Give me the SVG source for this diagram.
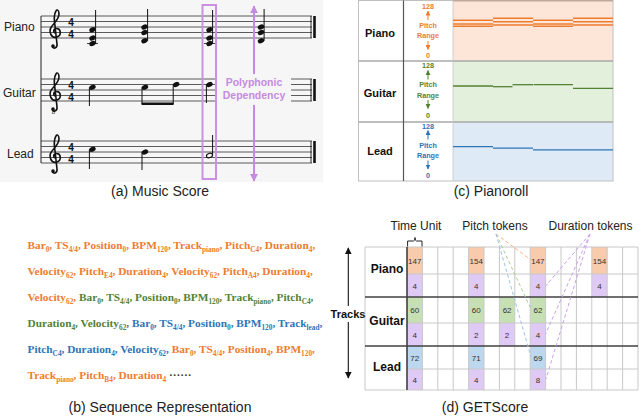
<svg xmlns="http://www.w3.org/2000/svg" width="640" height="417" viewBox="0 0 640 417">
<style>
.cap{font-family:"Liberation Sans",Arial,sans-serif;font-size:14px;fill:#222;text-anchor:middle}
.lbl{font-family:"Liberation Sans",Arial,sans-serif;font-size:12px;fill:#222}
.blbl{font-family:"Liberation Sans",Arial,sans-serif;font-weight:bold;fill:#111;text-anchor:middle}
.staff line{stroke:#333;stroke-width:0.8}
.clef{fill:none;stroke:#111;stroke-width:1.6;stroke-linecap:round}
.ts{font-family:"Liberation Sans",Arial,sans-serif;font-weight:bold;font-size:10px;fill:#111;text-anchor:middle}
.stem{stroke:#111;stroke-width:1}
.purple{fill:#c48be0}
.pr{font-family:"Liberation Sans",Arial,sans-serif;font-weight:bold;font-size:7.2px;text-anchor:middle}
.seq{font-family:"Liberation Serif","Times New Roman",serif;font-weight:bold;font-size:11.3px}
.seq tspan tspan.s{font-size:7.3px}
.o{fill:#ed7d31}.g{fill:#548235}.b{fill:#2e75b6}
.grid{stroke:#c8c8c8;stroke-width:1}
.cell{font-family:"Liberation Sans",Arial,sans-serif;font-size:8px;fill:#333;text-anchor:middle}
.dash{fill:none;stroke-width:1;stroke-dasharray:3.5 2.5}
</style>
<defs>
<marker id="ah" viewBox="0 0 10 10" refX="9" refY="5" markerWidth="6" markerHeight="6" orient="auto-start-reverse"><path d="M0 0 L10 5 L0 10 z" fill="#111"/></marker>
<marker id="ahp" viewBox="0 0 10 10" refX="9" refY="5" markerWidth="4" markerHeight="4" orient="auto-start-reverse"><path d="M0 0 L10 5 L0 10 z" fill="#c48be0"/></marker>
<marker id="aho" viewBox="0 0 10 10" refX="9" refY="5" markerWidth="5" markerHeight="5" orient="auto"><path d="M0 0 L10 5 L0 10 z" fill="#ed7d31"/></marker>
<marker id="ahg" viewBox="0 0 10 10" refX="9" refY="5" markerWidth="5" markerHeight="5" orient="auto"><path d="M0 0 L10 5 L0 10 z" fill="#548235"/></marker>
<marker id="ahb" viewBox="0 0 10 10" refX="9" refY="5" markerWidth="5" markerHeight="5" orient="auto"><path d="M0 0 L10 5 L0 10 z" fill="#2e75b6"/></marker>
<g id="clef"><path class="clef" d="M1.5 17 C-1 17,-1 13,2 12.5 C7 12,8 19,3 21 C-3 23,-6 15,-2 10 C1 6,5 3,5 -2 C5 -6,3 -7,2 -5 C0 -2,0 4,1 10 L3 28 C3.5 32,0 33,-1.5 31"/><circle cx="-1" cy="30" r="1.8" fill="#111"/></g>
<ellipse id="nh" rx="3.3" ry="2.4" transform="rotate(-20)" fill="#111"/>
</defs>

<!-- (a) Music Score -->
<g id="music-score">
<rect x="0" y="0" width="323" height="182" fill="#f6f6f6"/>
<line x1="41" y1="16" x2="41" y2="163" stroke="#222" stroke-width="1"/>
<g class="staff">
<line x1="41" y1="16" x2="312" y2="16"/><line x1="41" y1="21.5" x2="312" y2="21.5"/><line x1="41" y1="27" x2="312" y2="27"/><line x1="41" y1="32.5" x2="312" y2="32.5"/><line x1="41" y1="38" x2="312" y2="38"/>
<line x1="41" y1="79" x2="217" y2="79"/><line x1="41" y1="84.5" x2="217" y2="84.5"/><line x1="41" y1="90" x2="217" y2="90"/><line x1="41" y1="95.5" x2="217" y2="95.5"/><line x1="41" y1="101" x2="217" y2="101"/>
<line x1="291" y1="79" x2="312" y2="79"/><line x1="291" y1="84.5" x2="312" y2="84.5"/><line x1="291" y1="90" x2="312" y2="90"/><line x1="291" y1="95.5" x2="312" y2="95.5"/><line x1="291" y1="101" x2="312" y2="101"/>
<line x1="41" y1="141" x2="312" y2="141"/><line x1="41" y1="146.5" x2="312" y2="146.5"/><line x1="41" y1="152" x2="312" y2="152"/><line x1="41" y1="157.5" x2="312" y2="157.5"/><line x1="41" y1="163" x2="312" y2="163"/>
</g>
<g stroke="#111">
<line x1="311" y1="16" x2="311" y2="38" stroke-width="0.9"/><line x1="314.5" y1="16" x2="314.5" y2="38" stroke-width="2.6"/>
<line x1="311" y1="79" x2="311" y2="101" stroke-width="0.9"/><line x1="314.5" y1="79" x2="314.5" y2="101" stroke-width="2.6"/>
<line x1="311" y1="141" x2="311" y2="163" stroke-width="0.9"/><line x1="314.5" y1="141" x2="314.5" y2="163" stroke-width="2.6"/>
</g>
<use href="#clef" x="54" y="16"/>
<use href="#clef" x="54" y="79"/>
<use href="#clef" x="54" y="141"/>
<text x="53.5" y="114" font-family="Liberation Sans,Arial,sans-serif" font-size="6" text-anchor="middle" fill="#111">8</text>
<text class="ts"><tspan x="71" y="26">4</tspan><tspan x="71" y="37.5">4</tspan></text>
<text class="ts"><tspan x="71" y="89">4</tspan><tspan x="71" y="100.5">4</tspan></text>
<text class="ts"><tspan x="71" y="151">4</tspan><tspan x="71" y="162.5">4</tspan></text>
<text class="lbl" x="4" y="31">Piano</text>
<text class="lbl" x="3" y="97">Guitar</text>
<text class="lbl" x="7" y="158">Lead</text>
<g>
<use href="#nh" x="92.5" y="43.5"/><use href="#nh" x="92.5" y="38"/><use href="#nh" x="92.5" y="29.75"/>
<line x1="87" y1="43.5" x2="98" y2="43.5" stroke="#111" stroke-width="0.8"/>
<line class="stem" x1="95.6" y1="43.5" x2="95.6" y2="10"/>
<use href="#nh" x="144.5" y="40.75"/><use href="#nh" x="144.5" y="32.5"/><use href="#nh" x="144.5" y="27"/>
<line class="stem" x1="147.6" y1="40.75" x2="147.6" y2="9"/>
<use href="#nh" x="209.5" y="43.5"/><use href="#nh" x="209.5" y="38"/><use href="#nh" x="209.5" y="29.75"/>
<line x1="204" y1="43.5" x2="215" y2="43.5" stroke="#111" stroke-width="0.8"/>
<line class="stem" x1="212.6" y1="43.5" x2="212.6" y2="10"/>
<use href="#nh" x="261" y="40.75"/><use href="#nh" x="261" y="32.5"/><use href="#nh" x="261" y="27"/>
<line class="stem" x1="264.1" y1="40.75" x2="264.1" y2="9"/>
</g>
<g>
<use href="#nh" x="92.5" y="87.25"/><line class="stem" x1="89.4" y1="87.25" x2="89.4" y2="106"/>
<use href="#nh" x="145" y="87.25"/><line class="stem" x1="142" y1="87.25" x2="142" y2="104"/>
<use href="#nh" x="176.2" y="84.5"/><line class="stem" x1="173.2" y1="84.5" x2="173.2" y2="104"/>
<line x1="141.6" y1="103.7" x2="173.6" y2="103.7" stroke="#111" stroke-width="2.6"/>
<use href="#nh" x="209.5" y="84.5"/><line class="stem" x1="206.4" y1="84.5" x2="206.4" y2="103"/>
</g>
<g>
<use href="#nh" x="92.5" y="149.25"/><line class="stem" x1="89.4" y1="149.25" x2="89.4" y2="169"/>
<use href="#nh" x="145" y="152"/><line class="stem" x1="142" y1="152" x2="142" y2="170"/>
<ellipse cx="209.5" cy="155.5" rx="3.1" ry="2.1" transform="rotate(-20 209.5 155.5)" fill="none" stroke="#111" stroke-width="1.1"/>
<line class="stem" x1="212.6" y1="155" x2="212.6" y2="135"/>
</g>
<rect x="202.5" y="5" width="13.5" height="174" fill="none" stroke="#c990e5" stroke-width="2"/>
<line x1="254" y1="74" x2="254" y2="6" stroke="#c48be0" stroke-width="2" marker-end="url(#ahp)"/>
<line x1="254" y1="105" x2="254" y2="181" stroke="#c48be0" stroke-width="2" marker-end="url(#ahp)"/>
<text x="254" y="86" class="purple" font-family="Liberation Sans,Arial,sans-serif" font-weight="bold" font-size="10.5" text-anchor="middle">Polyphonic</text>
<text x="254" y="98.5" class="purple" font-family="Liberation Sans,Arial,sans-serif" font-weight="bold" font-size="10.5" text-anchor="middle">Dependency</text>
<text class="cap" x="160" y="196">(a) Music Score</text>
</g>

<!-- (c) Pianoroll -->
<g id="pianoroll">
<rect x="453" y="0.5" width="160" height="60.5" fill="#fde5d7"/>
<rect x="453" y="61" width="160" height="61" fill="#e3f0dc"/>
<rect x="453" y="122" width="160" height="59" fill="#deebf7"/>
<rect x="358.5" y="0.5" width="254.5" height="180.5" fill="none" stroke="#c0c0c0" stroke-width="1"/>
<line x1="453" y1="0.8" x2="613" y2="0.8" stroke="#bfa99b" stroke-width="1.5"/>
<line x1="358.5" y1="61" x2="613" y2="61" stroke="#a8a8a8" stroke-width="1.5"/>
<line x1="358.5" y1="122" x2="613" y2="122" stroke="#a8a8a8" stroke-width="1.5"/>
<line x1="403.5" y1="0.5" x2="403.5" y2="181" stroke="#555" stroke-width="1.2"/>
<line x1="453" y1="0.5" x2="453" y2="181" stroke="#c8c8c8" stroke-width="0.8"/>
<text class="blbl" x="380" y="36.5" font-size="11">Piano</text>
<text class="blbl" x="380" y="97" font-size="11">Guitar</text>
<text class="blbl" x="380" y="155" font-size="11">Lead</text>
<g class="pr o">
<text x="428" y="8.5">128</text><text x="428" y="27.5">Pitch</text><text x="428" y="37.5">Range</text><text x="428" y="57.5">0</text>
</g>
<line x1="428" y1="20" x2="428" y2="11" stroke="#ed7d31" stroke-width="1" marker-end="url(#aho)"/>
<line x1="428" y1="41" x2="428" y2="49.5" stroke="#ed7d31" stroke-width="1" marker-end="url(#aho)"/>
<g class="pr g">
<text x="428" y="67.5">128</text><text x="428" y="87">Pitch</text><text x="428" y="97.5">Range</text><text x="428" y="117.5">0</text>
</g>
<line x1="428" y1="79.5" x2="428" y2="70.5" stroke="#548235" stroke-width="1" marker-end="url(#ahg)"/>
<line x1="428" y1="100" x2="428" y2="108.5" stroke="#548235" stroke-width="1" marker-end="url(#ahg)"/>
<g class="pr b">
<text x="428" y="128.5">128</text><text x="428" y="147.5">Pitch</text><text x="428" y="158">Range</text><text x="428" y="178">0</text>
</g>
<line x1="428" y1="139.5" x2="428" y2="130.5" stroke="#2e75b6" stroke-width="1" marker-end="url(#ahb)"/>
<line x1="428" y1="160.5" x2="428" y2="169" stroke="#2e75b6" stroke-width="1" marker-end="url(#ahb)"/>
<g stroke="#ed7d31" stroke-width="1.6">
<line x1="453" y1="20.3" x2="493" y2="20.3"/><line x1="453" y1="24" x2="493" y2="24"/><line x1="453" y1="26.3" x2="493" y2="26.3"/>
<line x1="493" y1="18.3" x2="533" y2="18.3"/><line x1="493" y1="21.7" x2="533" y2="21.7"/><line x1="493" y1="25" x2="533" y2="25"/>
<line x1="533" y1="20.3" x2="573" y2="20.3"/><line x1="533" y1="24" x2="573" y2="24"/><line x1="533" y1="26.3" x2="573" y2="26.3"/>
<line x1="573" y1="18.3" x2="613" y2="18.3"/><line x1="573" y1="21.7" x2="613" y2="21.7"/><line x1="573" y1="25" x2="613" y2="25"/>
</g>
<g stroke="#548235" stroke-width="1.3">
<line x1="453" y1="86" x2="493" y2="86"/><line x1="493" y1="86.7" x2="512.5" y2="86.7"/><line x1="512.5" y1="84.7" x2="533" y2="84.7"/><line x1="533.5" y1="84.7" x2="573" y2="84.7"/><line x1="573" y1="88.3" x2="613" y2="88.3"/>
</g>
<g stroke="#2e75b6" stroke-width="1.3">
<line x1="453" y1="146.7" x2="493" y2="146.7"/><line x1="493" y1="148.2" x2="533" y2="148.2"/><line x1="533" y1="149.8" x2="613" y2="149.8"/>
</g>
<text class="cap" x="491" y="196">(c) Pianoroll</text>
</g>

<!-- (b) Sequence Representation -->
<g id="sequence">
<text class="seq" x="27.5" y="249"><tspan class="o">Bar<tspan class="s" dy="2.5">0</tspan><tspan dy="-2.5">, TS</tspan><tspan class="s" dy="2.5">4/4</tspan><tspan dy="-2.5">, Position</tspan><tspan class="s" dy="2.5">0</tspan><tspan dy="-2.5">, BPM</tspan><tspan class="s" dy="2.5">120</tspan><tspan dy="-2.5">, Track</tspan><tspan class="s" dy="2.5">piano</tspan><tspan dy="-2.5">, Pitch</tspan><tspan class="s" dy="2.5">C4</tspan><tspan dy="-2.5">, Duration</tspan><tspan class="s" dy="2.5">4</tspan><tspan dy="-2.5">,</tspan></tspan></text>
<text class="seq" x="27.5" y="275"><tspan class="o">Velocity<tspan class="s" dy="2.5">62</tspan><tspan dy="-2.5">, Pitch</tspan><tspan class="s" dy="2.5">E4</tspan><tspan dy="-2.5">, Duration</tspan><tspan class="s" dy="2.5">4</tspan><tspan dy="-2.5">, Velocity</tspan><tspan class="s" dy="2.5">62</tspan><tspan dy="-2.5">, Pitch</tspan><tspan class="s" dy="2.5">A4</tspan><tspan dy="-2.5">, Duration</tspan><tspan class="s" dy="2.5">4</tspan><tspan dy="-2.5">,</tspan></tspan></text>
<text class="seq" x="27.5" y="301"><tspan class="o">Velocity<tspan class="s" dy="2.5">62</tspan><tspan dy="-2.5">, </tspan></tspan><tspan class="g">Bar<tspan class="s" dy="2.5">0</tspan><tspan dy="-2.5">, TS</tspan><tspan class="s" dy="2.5">4/4</tspan><tspan dy="-2.5">, Position</tspan><tspan class="s" dy="2.5">0</tspan><tspan dy="-2.5">, BPM</tspan><tspan class="s" dy="2.5">120</tspan><tspan dy="-2.5">, Track</tspan><tspan class="s" dy="2.5">piano</tspan><tspan dy="-2.5">, Pitch</tspan><tspan class="s" dy="2.5">C4</tspan><tspan dy="-2.5">,</tspan></tspan></text>
<text class="seq" x="27.5" y="327"><tspan class="g">Duration<tspan class="s" dy="2.5">4</tspan><tspan dy="-2.5">, Velocity</tspan><tspan class="s" dy="2.5">62</tspan><tspan dy="-2.5">, </tspan></tspan><tspan class="b">Bar<tspan class="s" dy="2.5">0</tspan><tspan dy="-2.5">, TS</tspan><tspan class="s" dy="2.5">4/4</tspan><tspan dy="-2.5">, Position</tspan><tspan class="s" dy="2.5">0</tspan><tspan dy="-2.5">, BPM</tspan><tspan class="s" dy="2.5">120</tspan><tspan dy="-2.5">, Track</tspan><tspan class="s" dy="2.5">lead</tspan><tspan dy="-2.5">,</tspan></tspan></text>
<text class="seq" x="27.5" y="353"><tspan class="b">Pitch<tspan class="s" dy="2.5">C4</tspan><tspan dy="-2.5">, Duration</tspan><tspan class="s" dy="2.5">4</tspan><tspan dy="-2.5">, Velocity</tspan><tspan class="s" dy="2.5">62</tspan><tspan dy="-2.5">, </tspan></tspan><tspan class="o">Bar<tspan class="s" dy="2.5">0</tspan><tspan dy="-2.5">, TS</tspan><tspan class="s" dy="2.5">4/4</tspan><tspan dy="-2.5">, Position</tspan><tspan class="s" dy="2.5">4</tspan><tspan dy="-2.5">, BPM</tspan><tspan class="s" dy="2.5">120</tspan><tspan dy="-2.5">,</tspan></tspan></text>
<text class="seq" x="27.5" y="379"><tspan class="o">Track<tspan class="s" dy="2.5">piano</tspan><tspan dy="-2.5">, Pitch</tspan><tspan class="s" dy="2.5">B4</tspan><tspan dy="-2.5">, Duration</tspan><tspan class="s" dy="2.5">4</tspan></tspan><tspan fill="#333" dy="-2.5"> ······</tspan></text>
<text class="cap" x="160" y="412">(b) Sequence Representation</text>
</g>

<!-- (d) GETScore -->
<g id="getscore">
<g id="cells">
<rect x="407" y="247" width="15.4" height="27" fill="#f8cbad"/><rect x="468.6" y="247" width="15.4" height="27" fill="#f8cbad"/><rect x="530.2" y="247" width="15.4" height="27" fill="#f8cbad"/><rect x="591.8" y="247" width="15.4" height="27" fill="#f8cbad"/>
<rect x="407" y="274" width="15.4" height="23" fill="#dfcaf5"/><rect x="468.6" y="274" width="15.4" height="23" fill="#dfcaf5"/><rect x="530.2" y="274" width="15.4" height="23" fill="#dfcaf5"/><rect x="591.8" y="274" width="15.4" height="23" fill="#dfcaf5"/>
<rect x="407" y="297" width="15.4" height="26" fill="#c6e0b4"/><rect x="468.6" y="297" width="15.4" height="26" fill="#c6e0b4"/><rect x="499.4" y="297" width="15.4" height="26" fill="#c6e0b4"/><rect x="530.2" y="297" width="15.4" height="26" fill="#c6e0b4"/>
<rect x="407" y="323" width="15.4" height="23" fill="#dfcaf5"/><rect x="468.6" y="323" width="15.4" height="23" fill="#dfcaf5"/><rect x="499.4" y="323" width="15.4" height="23" fill="#dfcaf5"/><rect x="530.2" y="323" width="15.4" height="23" fill="#dfcaf5"/>
<rect x="407" y="346" width="15.4" height="23" fill="#bdd7ee"/><rect x="468.6" y="346" width="15.4" height="23" fill="#bdd7ee"/><rect x="530.2" y="346" width="15.4" height="23" fill="#bdd7ee"/>
<rect x="407" y="369" width="15.4" height="21" fill="#dfcaf5"/><rect x="468.6" y="369" width="15.4" height="21" fill="#dfcaf5"/><rect x="530.2" y="369" width="15.4" height="21" fill="#dfcaf5"/>
</g>
<g class="grid">
<line x1="422.4" y1="247" x2="422.4" y2="390"/><line x1="437.8" y1="247" x2="437.8" y2="390"/><line x1="453.2" y1="247" x2="453.2" y2="390"/><line x1="468.6" y1="247" x2="468.6" y2="390"/><line x1="484" y1="247" x2="484" y2="390"/><line x1="499.4" y1="247" x2="499.4" y2="390"/><line x1="514.8" y1="247" x2="514.8" y2="390"/><line x1="530.2" y1="247" x2="530.2" y2="390"/><line x1="545.6" y1="247" x2="545.6" y2="390"/><line x1="561" y1="247" x2="561" y2="390"/><line x1="576.4" y1="247" x2="576.4" y2="390"/><line x1="591.8" y1="247" x2="591.8" y2="390"/><line x1="607.2" y1="247" x2="607.2" y2="390"/><line x1="622.6" y1="247" x2="622.6" y2="390"/><line x1="638" y1="247" x2="638" y2="390"/>
<line x1="365" y1="247" x2="365" y2="390"/>
<line x1="365" y1="247" x2="638" y2="247"/><line x1="407" y1="274" x2="638" y2="274"/><line x1="407" y1="323" x2="638" y2="323"/><line x1="407" y1="369" x2="638" y2="369"/><line x1="365" y1="390" x2="638" y2="390"/>
</g>
<line x1="365" y1="297" x2="638" y2="297" stroke="#404040" stroke-width="1.6"/>
<line x1="365" y1="346" x2="638" y2="346" stroke="#404040" stroke-width="1.6"/>
<line x1="407" y1="247" x2="407" y2="390" stroke="#404040" stroke-width="1.6"/>
<g class="cell">
<text x="414.7" y="263.5">147</text><text x="476.3" y="263.5">154</text><text x="537.9" y="263.5">147</text><text x="599.5" y="263.5">154</text>
<text x="414.7" y="288.5">4</text><text x="476.3" y="288.5">4</text><text x="537.9" y="288.5">4</text><text x="599.5" y="288.5">4</text>
<text x="414.7" y="313">60</text><text x="476.3" y="313">60</text><text x="507.1" y="313">62</text><text x="537.9" y="313">62</text>
<text x="414.7" y="338">4</text><text x="476.3" y="338">2</text><text x="507.1" y="338">2</text><text x="537.9" y="338">4</text>
<text x="414.7" y="361">72</text><text x="476.3" y="361">71</text><text x="537.9" y="361">69</text>
<text x="414.7" y="383">4</text><text x="476.3" y="383">4</text><text x="537.9" y="383">8</text>
</g>
<text class="blbl" x="387" y="273" font-size="12">Piano</text>
<text class="blbl" x="387" y="325" font-size="12">Guitar</text>
<text class="blbl" x="387" y="370.5" font-size="12">Lead</text>
<line x1="348.3" y1="306" x2="348.3" y2="248" stroke="#111" stroke-width="1.1" marker-end="url(#ah)"/>
<line x1="348.3" y1="322" x2="348.3" y2="378" stroke="#111" stroke-width="1.1" marker-end="url(#ah)"/>
<text class="blbl" x="348" y="318" font-size="11">Tracks</text>
<path d="M407.6 246.5 V241 H413.5 Q415 241 415 237.5 Q415 241 416.5 241 H422 V246.5" fill="none" stroke="#222" stroke-width="1"/>
<text class="lbl" x="416" y="230" text-anchor="middle">Time Unit</text>
<text class="lbl" x="495" y="230" text-anchor="middle">Pitch tokens</text>
<text class="lbl" x="590.5" y="230" text-anchor="middle">Duration tokens</text>
<g id="connectors">
<line class="dash" x1="496" y1="234" x2="531" y2="260" stroke="#f4b183"/>
<line class="dash" x1="496" y1="234" x2="531" y2="309" stroke="#a9d18e"/>
<line class="dash" x1="496" y1="234" x2="531" y2="357" stroke="#9dc3e6"/>
<line class="dash" x1="590" y1="234" x2="545.6" y2="286" stroke="#c9a0f0"/>
<line class="dash" x1="590" y1="234" x2="545.6" y2="334" stroke="#c9a0f0"/>
<line class="dash" x1="590" y1="234" x2="546" y2="379" stroke="#c9a0f0"/>
</g>
<text class="cap" x="485" y="412">(d) GETScore</text>
</g>
</svg>
